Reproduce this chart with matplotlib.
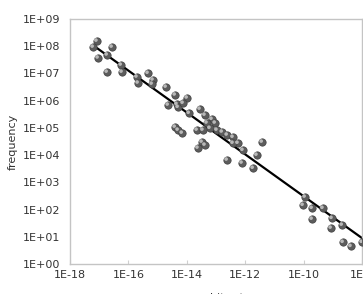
import numpy as np
import matplotlib
matplotlib.use("Agg")
import matplotlib.pyplot as plt
from matplotlib.transforms import offset_copy

# exponents (log10 of x and y)
log_x = [-17.08, -17.21, -16.56, -16.73, -17.04, -16.73, -16.25, -16.22, -15.71, -15.67,
         -15.33, -15.16, -15.19, -14.71, -14.40, -14.64, -14.34, -14.30, -13.99, -14.13,
         -13.92, -13.55, -13.38, -13.14, -13.31, -13.03, -13.21, -12.97, -12.79, -12.62,
         -12.42, -12.25, -12.08, -12.42, -14.40, -14.30, -14.16, -13.65, -13.45, -13.48,
         -13.38, -13.62, -12.62, -12.11, -11.60, -11.73, -11.42, -9.95, -10.02, -9.71,
         -9.71, -9.34, -9.03, -9.06, -8.68, -8.65, -8.38, -8.00]
log_y = [8.19, 7.97, 7.97, 7.68, 7.57, 7.05, 7.31, 7.05, 6.87, 6.65,
         7.01, 6.76, 6.61, 6.50, 6.21, 5.84, 5.87, 5.76, 6.10, 5.91,
         5.54, 5.69, 5.47, 5.32, 5.18, 5.18, 4.99, 4.92, 4.85, 4.74,
         4.66, 4.44, 4.18, 4.44, 5.03, 4.92, 4.81, 4.92, 4.92, 4.48,
         4.37, 4.26, 3.82, 3.71, 4.00, 3.52, 4.48, 2.46, 2.16, 2.05,
         1.65, 2.05, 1.68, 1.32, 1.43, 0.80, 0.65, 0.80]

# power-law trend line: log y = a + b log x
trend_a = -5.2
trend_b = -0.769
trend_x_range = [-17.1, -8.0]

x_ticks = [-18, -16, -14, -12, -10, -8]
y_ticks = list(range(0, 10))

x = 10.0 ** np.array(log_x)
y = 10.0 ** np.array(log_y)

plt.rcParams['font.family'] = ['DejaVu Sans']
fig = plt.figure(figsize=(3.63, 2.94), dpi=100)
ax = fig.add_axes([70/363, 30/294, 292/363, 245/294])

tx = np.linspace(trend_x_range[0], trend_x_range[1], 50)
ax.plot(10.0 ** tx, 10.0 ** (trend_a + trend_b * tx), color='black', lw=1.6, zorder=2)

# shaded "sphere" markers
ax.scatter(x, y, s=28, color='#5c5c5c', edgecolors='#404040', linewidths=0.5, zorder=3)
hl = offset_copy(ax.transData, fig=fig, x=-0.7, y=0.7, units='points')
ax.scatter(x, y, s=7, color='#b8b8b8', edgecolors='none', transform=hl, zorder=4)

ax.set_xscale('log')
ax.set_yscale('log')
ax.set_xlim(1e-18, 1e-8)
ax.set_ylim(1, 1e9)
ax.set_xticks([10.0 ** t for t in x_ticks])
ax.set_xticklabels(['1E%d' % t for t in x_ticks])
ax.set_yticks([10.0 ** t for t in y_ticks])
ax.set_yticklabels(['1E+%02d' % t for t in y_ticks])
ax.minorticks_off()
ax.tick_params(axis='x', length=3, direction='in', color='#d0d0d0', labelsize=8,
               labelcolor='#333333', pad=4)
ax.tick_params(axis='y', length=0, labelsize=8, labelcolor='#333333', pad=7)
for s in ax.spines.values():
    s.set_color('#c4c4c4')
    s.set_linewidth(1.0)

ax.set_ylabel('frequency', fontsize=8, color='#333333', labelpad=4)
fig.text(0.635, 0.004, 'bit rate', fontsize=8, color='#333333', ha='center', va='top')

fig.savefig('out.png', dpi=100)
